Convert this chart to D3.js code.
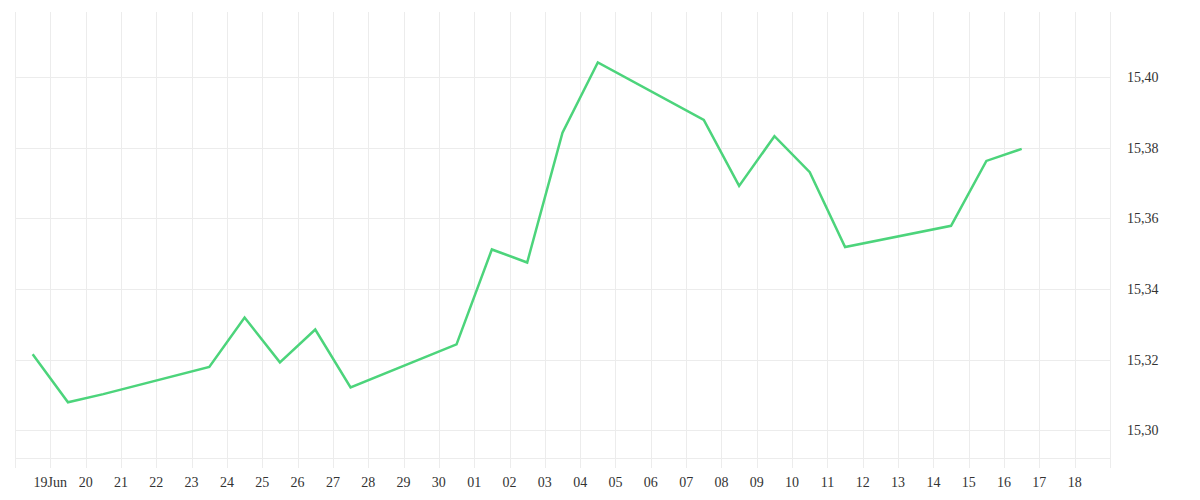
<!DOCTYPE html>
<html>
<head>
<meta charset="utf-8">
<script src="https://cdn.jsdelivr.net/npm/d3@7/dist/d3.min.js"></script>
<style>
  html, body { margin: 0; padding: 0; background: #fff; }
  svg text { font-family: "Liberation Serif", "DejaVu Serif", serif; fill: #333; }
</style>
</head>
<body>
<svg id="chart" width="1200" height="500"></svg>
<script>
// Data (trading days, daily value)
const dates = [
  "2014-06-18","2014-06-19","2014-06-20","2014-06-23","2014-06-24","2014-06-25",
  "2014-06-26","2014-06-27","2014-06-30","2014-07-01","2014-07-02","2014-07-03",
  "2014-07-04","2014-07-07","2014-07-08","2014-07-09","2014-07-10","2014-07-11",
  "2014-07-14","2014-07-15","2014-07-16"
];
const values = [
  15.3215, 15.3079, 15.3102, 15.3179, 15.3319, 15.3192,
  15.3285, 15.3121, 15.3243, 15.3512, 15.3475, 15.3843,
  15.4042, 15.3879, 15.3692, 15.3833, 15.3731, 15.3519,
  15.3579, 15.3763, 15.3797
];
const yTicks = [15.30, 15.32, 15.34, 15.36, 15.38, 15.40];
const xStart = "2014-06-18";
const xEnd = "2014-07-19";

(function () {
const svg = d3.select("#chart");
const mLeft = 15, mRight = 1110, mTop = 12, mBottom = 458;

const x = d3.scaleUtc()
  .domain([new Date(xStart + "T00:00:00Z"), new Date(xEnd + "T00:00:00Z")])
  .range([mLeft, mRight]);
const y = d3.scaleLinear()
  .domain([15.2921, 15.4185])
  .range([mBottom, mTop]);

const gridColor = "#ececec";
const dayTicks = d3.utcDay.range(x.domain()[0], d3.utcDay.offset(x.domain()[1], 1));

// vertical gridlines (extend below plot as ticks)
svg.append("g").selectAll("line").data(dayTicks).join("line")
  .attr("x1", d => Math.round(x(d)) + 0.5).attr("x2", d => Math.round(x(d)) + 0.5)
  .attr("y1", mTop).attr("y2", mBottom + 10)
  .attr("stroke", gridColor).attr("stroke-width", 1);

// horizontal gridlines
svg.append("g").selectAll("line").data(yTicks).join("line")
  .attr("x1", mLeft).attr("x2", mRight)
  .attr("y1", d => Math.round(y(d)) + 0.5).attr("y2", d => Math.round(y(d)) + 0.5)
  .attr("stroke", gridColor).attr("stroke-width", 1);

// bottom line
svg.append("line")
  .attr("x1", mLeft).attr("x2", mRight)
  .attr("y1", mBottom + 0.5).attr("y2", mBottom + 0.5)
  .attr("stroke", gridColor).attr("stroke-width", 1);

// x labels
const fmtDay = d3.utcFormat("%d");
const labelDates = dayTicks.filter(d => d > x.domain()[0] && d < x.domain()[1]);
svg.append("g").selectAll("text").data(labelDates).join("text")
  .attr("x", d => x(d)).attr("y", 487)
  .attr("text-anchor", "middle")
  .attr("font-size", 14)
  .text((d, i) => i === 0 ? fmtDay(d).replace(/^0/, "") + "Jun" : fmtDay(d));

// y labels
const fmtY = v => d3.format(".2f")(v).replace(".", ",");
svg.append("g").selectAll("text").data(yTicks).join("text")
  .attr("x", 1127).attr("y", d => y(d) + 5)
  .attr("text-anchor", "start")
  .attr("font-size", 14)
  .text(fmtY);

// line
const pts = dates.map((d, i) => ({ t: d3.utcHour.offset(new Date(d + "T00:00:00Z"), 12), v: values[i] }));
const line = d3.line().x(d => x(d.t)).y(d => y(d.v));
svg.append("path").datum(pts)
  .attr("d", line)
  .attr("fill", "none")
  .attr("stroke", "#4cd47b")
  .attr("stroke-width", 2.5)
  .attr("stroke-linejoin", "miter");
})();
</script>
</body>
</html>
